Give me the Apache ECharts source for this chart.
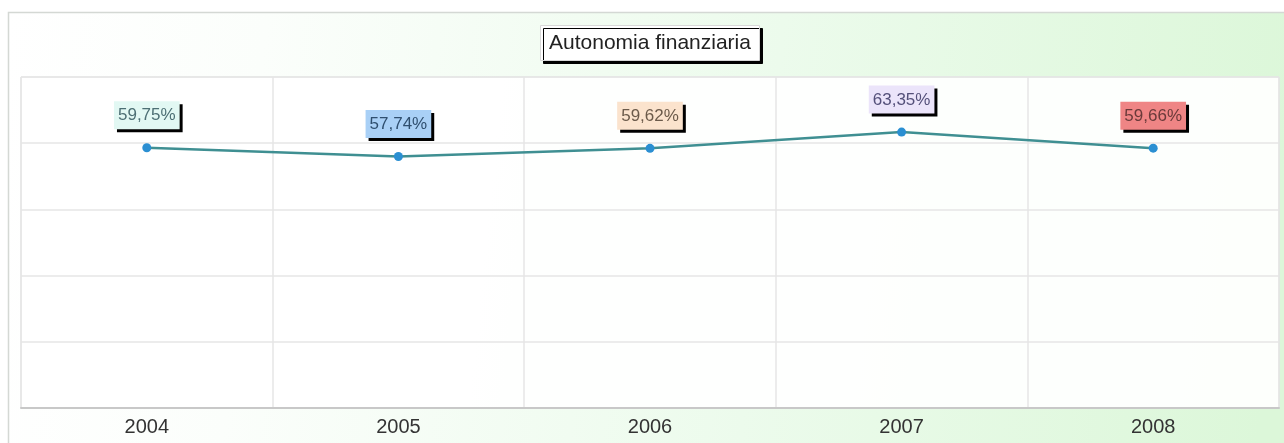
<!DOCTYPE html>
<html>
<head>
<meta charset="utf-8">
<script src="https://cdn.jsdelivr.net/npm/echarts@6/dist/echarts.min.js"></script>
<style>
html,body{margin:0;padding:0;background:#fff;}
#c{width:1284px;height:443px;}
</style>
</head>
<body>
<div id="c"></div>
<script>
const years = ['2004', '2005', '2006', '2007', '2008'];
const values = [59.75, 57.74, 59.62, 63.35, 59.66];
const labelTexts = ['59,75%', '57,74%', '59,62%', '63,35%', '59,66%'];
const labelFills = ['#e2f8f3', '#a9d0f6', '#fbe3cd', '#ebe4fa', '#ef8585'];
const labelColors = ['#4d6f74', '#2f4f6f', '#6b5a4a', '#54507a', '#6a3a3a'];
const titleText = 'Autonomia finanziaria';

const chart = echarts.init(document.getElementById('c'), null, {renderer: 'canvas'});
const data = values.map((v, i) => ({
  value: v,
  label: {
    formatter: labelTexts[i],
    backgroundColor: labelFills[i],
    color: labelColors[i]
  }
}));
chart.setOption({
  animation: false,
  backgroundColor: '#ffffff',
  graphic: [{
    type: 'rect',
    z: -10,
    shape: {x: 8.5, y: 12.5, width: 1280, height: 440},
    style: {
      fill: new echarts.graphic.LinearGradient(0, 0, 1, 0.3, [
        {offset: 0, color: '#ffffff'},
        {offset: 0.2, color: '#fbfefb'},
        {offset: 0.6, color: '#ecfbec'},
        {offset: 1, color: '#dcf7d9'}
      ]),
      stroke: '#d4d8d4',
      lineWidth: 1.5
    }
  }],
  title: {
    text: titleText,
    left: 540,
    top: 25,
    padding: [8, 9, 7, 9],
    backgroundColor: '#ffffff',
    borderColor: '#d8d8d8',
    borderWidth: 1,
    shadowColor: '#000',
    shadowOffsetX: 3,
    shadowOffsetY: 3,
    shadowBlur: 0,
    textStyle: {
      fontFamily: 'Liberation Sans, Arial, sans-serif',
      fontSize: 21,
      fontWeight: 'normal',
      color: '#222'
    }
  },
  grid: {
    left: 21, right: 5, top: 77, bottom: 35,
    show: true,
    backgroundColor: 'rgba(255,255,255,0.92)',
    borderColor: '#dcdcdc',
    borderWidth: 1
  },
  xAxis: {
    type: 'category',
    data: years,
    boundaryGap: true,
    axisLine: {show: true, lineStyle: {color: '#c8c8c8', width: 2}},
    axisTick: {show: false},
    axisLabel: {
      fontFamily: 'Liberation Sans, Arial, sans-serif',
      fontSize: 20,
      color: '#333',
      margin: 9
    },
    splitLine: {show: true, lineStyle: {color: '#e6e6e6', width: 1.5}}
  },
  yAxis: {
    type: 'value',
    min: 0,
    max: 76,
    interval: 15.2,
    axisLabel: {show: false},
    axisLine: {show: false},
    axisTick: {show: false},
    splitLine: {show: true, lineStyle: {color: '#e6e6e6', width: 1.5}}
  },
  series: [{
    type: 'line',
    data: data,
    symbol: 'circle',
    symbolSize: 9,
    itemStyle: {color: '#2b8fd2'},
    lineStyle: {color: '#3f8f92', width: 2.5},
    label: {
      show: true,
      position: 'top',
      distance: 14,
      fontFamily: 'Liberation Sans, Arial, sans-serif',
      fontSize: 17,
      padding: [6, 4, 5, 4],
      shadowColor: '#000',
      shadowOffsetX: 3,
      shadowOffsetY: 3,
      shadowBlur: 0
    }
  }]
});
</script>
</body>
</html>
